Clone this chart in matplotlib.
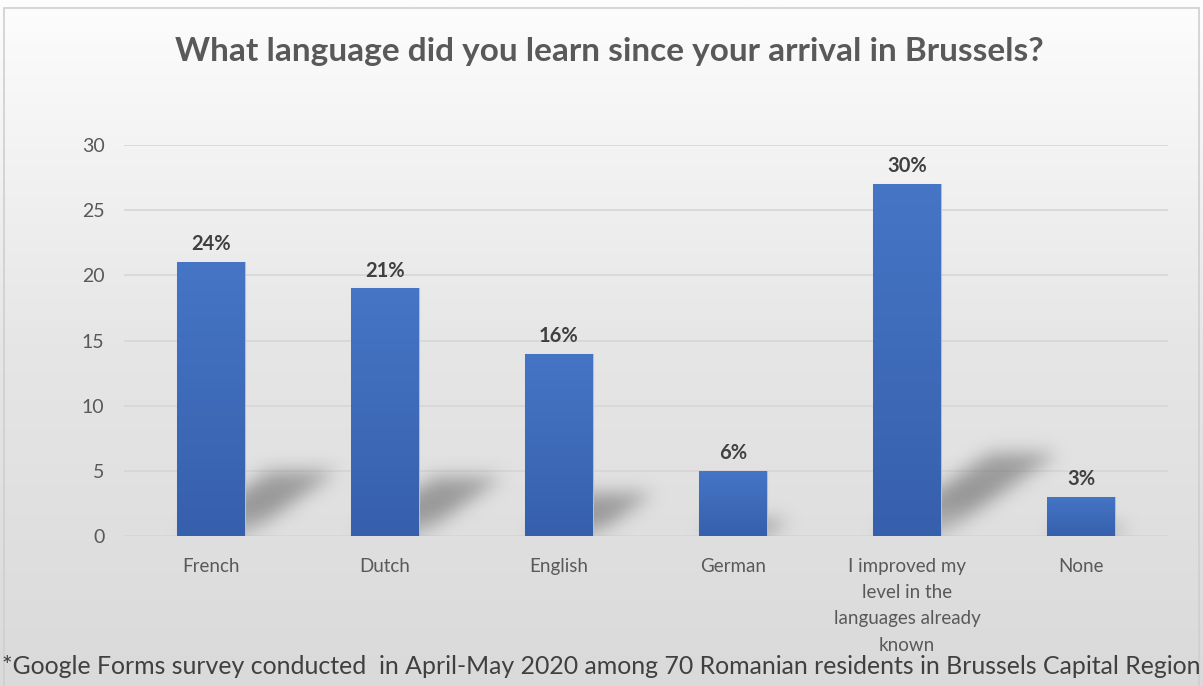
import numpy as np
import matplotlib.pyplot as plt
from matplotlib.colors import LinearSegmentedColormap

categories = ["French", "Dutch", "English", "German",
              "I improved my\nlevel in the\nlanguages already\nknown", "None"]
counts = [21, 19, 14, 5, 27, 3]
shares = ["24%", "21%", "16%", "6%", "30%", "3%"]
yticks = [0, 5, 10, 15, 20, 25, 30]

title = "What language did you learn since your arrival in Brussels?"
note = ("*Google Forms survey conducted  in April-May 2020 among 70 Romanian "
        "residents in Brussels Capital Region")

FONT = "Lato"
BAR_W = 0.39

fig = plt.figure(figsize=(12.03, 6.86), dpi=100)

# ── background: white to light grey, with a thin frame ──
bg = fig.add_axes([0, 0, 1, 1], zorder=0)
bg.set_xlim(0, 1); bg.set_ylim(0, 1)
bg.axis("off")
bg_cmap = LinearSegmentedColormap.from_list("bg", ["#dadada", "#e6e6e6", "#fdfdfd"])
bg.imshow(np.linspace(0, 1, 256)[:, None], aspect="auto", cmap=bg_cmap,
          extent=[0, 1, 0, 1], origin="lower")
bg.add_patch(plt.Rectangle((4 / 1203, -0.01), 1195 / 1203, 1 - 8 / 686 + 0.01,
                           fill=False, edgecolor="#cfcfcf", lw=1.2))

ax = fig.add_axes([124 / 1203, 150 / 686, 1044 / 1203, 391 / 686], zorder=1)
ax.patch.set_alpha(0)
ax.set_xlim(-0.5, len(categories) - 0.5)
ax.set_ylim(0, 30)
for s in ax.spines.values():
    s.set_visible(False)

for y in yticks:
    ax.axhline(y, color="#d6d6d6", lw=1.2, zorder=1)

# ── soft shadows leaning to the right of each bar ──
H, W = 391, 1044
xs = np.linspace(-0.5, len(categories) - 0.5, W)
ys = np.linspace(30, 0, H)
X, Y = np.meshgrid(xs, ys)
alpha = np.zeros_like(X)
for i, h in enumerate(counts):
    dy = 0.235 * h
    dx = 0.025 * h
    t = Y / dy
    u = X - i - dx * t
    inside = (t >= 0) & (t <= 1) & (np.abs(u) <= BAR_W / 2)
    a = 0.7 * np.clip(0.35 + 1.6 * t, 0, 1) * (1 - 0.2 * t)
    alpha = np.maximum(alpha, np.where(inside, a, 0.0))
k = np.exp(-0.5 * (np.arange(-27, 28) / 9.0) ** 2)
k /= k.sum()
alpha = np.apply_along_axis(lambda r: np.convolve(r, k, mode="same"), 1, alpha)
alpha = np.apply_along_axis(lambda c: np.convolve(c, k, mode="same"), 0, alpha)
shadow = np.zeros((H, W, 4))
shadow[..., :3] = 0.42
shadow[..., 3] = alpha
ax.imshow(shadow, extent=[-0.5, len(categories) - 0.5, 0, 30], aspect="auto",
          zorder=2, interpolation="bilinear")

# ── bars with a slight vertical gradient ──
bar_cmap = LinearSegmentedColormap.from_list("bar", ["#3660ac", "#4675c6"])
bars = ax.bar(range(len(categories)), counts, width=BAR_W, color="#4170c0",
              edgecolor="#a9c0e8", lw=0.8, zorder=3)
for b in bars:
    x0, w, h = b.get_x(), b.get_width(), b.get_height()
    im = ax.imshow(np.linspace(0, 1, 64)[:, None], cmap=bar_cmap, origin="lower",
                   extent=[x0, x0 + w, 0, h], aspect="auto", zorder=3.5)
    im.set_clip_path(b)

for i, (h, lab) in enumerate(zip(counts, shares)):
    ax.text(i, h + 0.6, lab, ha="center", va="bottom", fontsize=14.5,
            fontweight="bold", color="#404040", family=FONT, zorder=5)

ax.set_xticks(range(len(categories)))
ax.set_xticklabels(categories, fontsize=13.5, color="#595959", family=FONT,
                   linespacing=1.65, va="top")
ax.set_yticks(yticks)
ax.set_yticklabels([str(v) for v in yticks], fontsize=14, color="#595959", family=FONT)
ax.tick_params(axis="both", length=0)
ax.tick_params(axis="x", pad=16)
ax.tick_params(axis="y", pad=14)
ax.set_xlim(-0.5, len(categories) - 0.5)
ax.set_ylim(0, 30)

fig.text(609 / 1203, 1 - 51 / 686, title, ha="center", va="center",
         fontsize=24, fontweight="bold", color="#595959", family=FONT)
fig.text(601 / 1203, 1 - 667 / 686, note, ha="center", va="center",
         fontsize=17.9, color="#404040", family=FONT)

fig.savefig("out.png", dpi=100)
